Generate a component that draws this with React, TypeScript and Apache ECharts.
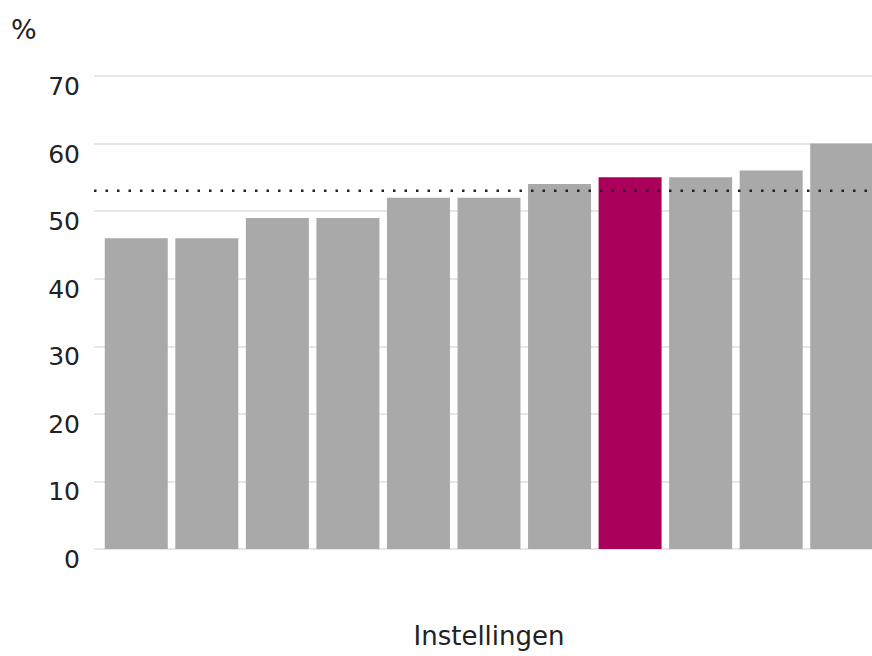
import React, { useEffect, useRef } from "react";
import * as echarts from "echarts";

const categories = ["1", "2", "3", "4", "5", "6", "7", "8", "9", "10", "11"];
const values = [46, 46, 49, 49, 52, 52, 54, 55, 55, 56, 60];
const highlightIndex = 7;
const averageValue = 53;
const yTicks = { min: 0, max: 70, interval: 10 };

const FONT = "DejaVu Sans";
const TEXT = "#222";

export default function App() {
  const ref = useRef<HTMLDivElement>(null);

  useEffect(() => {
    if (!ref.current) return;
    const chart = echarts.init(ref.current, null, { renderer: "svg" });
    chart.setOption({
      animation: false,
      backgroundColor: "#fff",
      grid: [
        { left: 94, right: 0, top: 76, bottom: 107, outerBoundsMode: "none" },
        { left: 101, right: -5, top: 76, bottom: 107, outerBoundsMode: "none" },
      ],
      graphic: [
        {
          type: "text",
          left: 11,
          top: 16,
          style: { text: "%", fontFamily: FONT, fontSize: 27, fill: TEXT },
        },
      ],
      xAxis: [
        { gridIndex: 0, type: "value", min: 0, max: 1, show: false },
        {
          gridIndex: 1,
          type: "category",
          data: categories,
          axisLine: { show: false },
          axisTick: { show: false },
          axisLabel: { show: false },
          name: "Instellingen",
          nameLocation: "middle",
          nameGap: 74,
          nameTextStyle: { fontFamily: FONT, fontSize: 26, color: TEXT, lineHeight: 26 },
        },
      ],
      yAxis: [
        {
          gridIndex: 0,
          type: "value",
          ...yTicks,
          axisLine: { show: false },
          axisTick: { show: false },
          axisLabel: {
            fontFamily: FONT,
            fontSize: 25,
            color: TEXT,
            margin: 14,
            verticalAlign: "top",
            lineHeight: 21,
          },
          splitLine: { lineStyle: { color: "#e6e6e6", width: 2 } },
        },
        {
          gridIndex: 1,
          type: "value",
          ...yTicks,
          show: false,
          splitLine: { show: false },
        },
      ],
      series: [
        {
          type: "bar",
          xAxisIndex: 1,
          yAxisIndex: 1,
          barWidth: 63,
          data: values.map((v, i) => ({
            value: v,
            itemStyle: { color: i === highlightIndex ? "#aa005c" : "#a9a9a9" },
          })),
          z: 2,
        },
        {
          type: "line",
          xAxisIndex: 0,
          yAxisIndex: 0,
          data: [
            [0, averageValue],
            [1, averageValue],
          ],
          symbol: "none",
          lineStyle: { color: "#222", width: 2.5, type: [2.5, 9] },
          z: 5,
        },
      ],
    });
    return () => chart.dispose();
  }, []);

  return <div ref={ref} style={{ width: 872, height: 656, position: "absolute", left: 0, top: 0 }} />;
}
